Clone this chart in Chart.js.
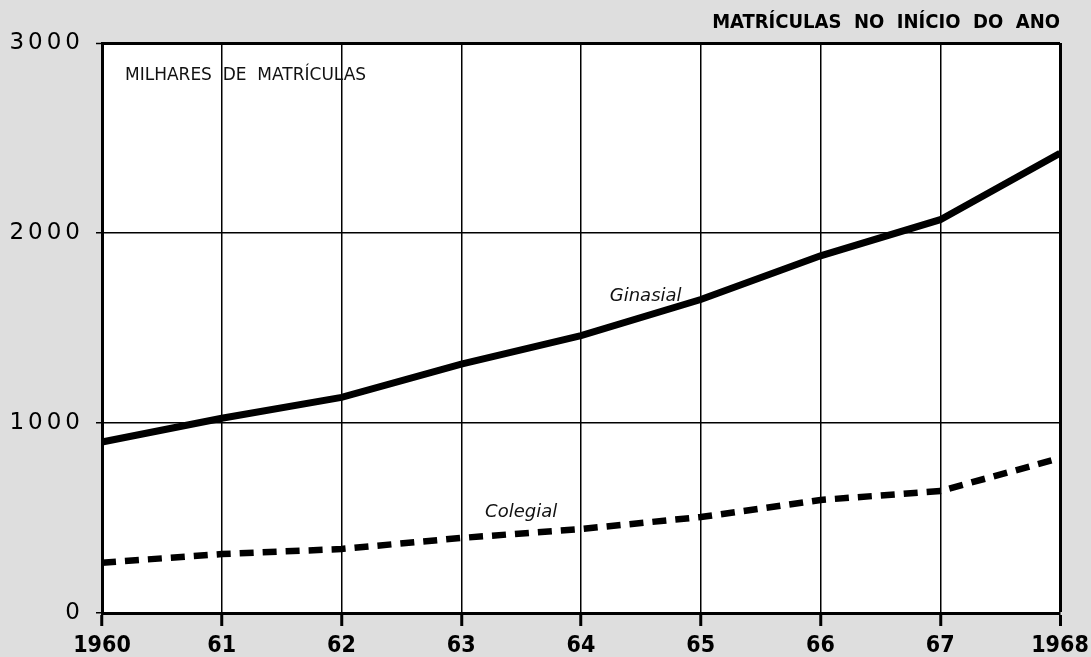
<!DOCTYPE html>
<html>
<head>
<meta charset="utf-8">
<script src="https://cdn.jsdelivr.net/npm/chart.js@4"></script>
<style>
  body { margin: 0; background: #dedede; }
  #wrap { width: 1091px; height: 657px; }
</style>
</head>
<body>
<div id="wrap"><canvas id="matriculasChart" width="1091" height="657"></canvas></div>
<script>
// anos
const anos = ['1960', '61', '62', '63', '64', '65', '66', '67', '1968'];
// milhares de matriculas
const ginasial = [900, 1025, 1135, 1310, 1460, 1650, 1880, 2070, 2420];
const colegial = [265, 310, 337, 395, 442, 505, 595, 642, 815];
const yTicks = [0, 1000, 2000, 3000];

const condensed = "'Liberation Sans Narrow', 'DejaVu Sans Condensed', 'Roboto', sans-serif";

// textos dentro do grafico
const rotulos = {
    id: 'rotulos',
    beforeDraw(chart) {
        const { ctx, chartArea } = chart;
        ctx.save();
        ctx.fillStyle = '#ffffff';
        ctx.fillRect(chartArea.left, chartArea.top, chartArea.right - chartArea.left, chartArea.bottom - chartArea.top);
        ctx.restore();
    },
    afterDatasetsDraw(chart) {
        const { ctx, chartArea, scales } = chart;
        ctx.save();
        ctx.fillStyle = '#111';
        ctx.textBaseline = 'middle';
        ctx.textAlign = 'left';
        ctx.font = "17px 'DejaVu Sans'";
        ctx.fillText('MILHARES  DE  MATRÍCULAS', chartArea.left + 23, chartArea.top + 33);

        ctx.textAlign = 'center';
        ctx.font = "italic 18px 'DejaVu Sans'";
        ctx.fillText('Ginasial', scales.x.getPixelForValue(4.54), scales.y.getPixelForValue(1665));
        ctx.fillText('Colegial', scales.x.getPixelForValue(3.5), scales.y.getPixelForValue(530));
        ctx.restore();
    }
};

// numeros do eixo y espacados
function espacarRotulos(scale) {
    const original = Object.getPrototypeOf(scale).drawLabels;
    scale.drawLabels = function (area) {
        this.ctx.save();
        this.ctx.letterSpacing = '4px';
        original.call(this, area);
        this.ctx.restore();
    };
}

new Chart(document.getElementById('matriculasChart').getContext('2d'), {
    type: 'line',
    data: {
        labels: anos,
        datasets: [{
            label: 'Ginasial',
            data: ginasial,
            borderColor: '#000',
            borderWidth: 7,
            pointRadius: 0,
            tension: 0
        }, {
            label: 'Colegial',
            data: colegial,
            borderColor: '#000',
            borderWidth: 6.5,
            borderDash: [14, 9],
            pointRadius: 0,
            tension: 0
        }]
    },
    options: {
        responsive: false,
        animation: false,
        layout: { padding: { left: 0, right: 31, top: 0, bottom: 0 } },
        plugins: {
            legend: { display: false },
            tooltip: { enabled: false },
            title: {
                display: true,
                text: 'MATRÍCULAS  NO  INÍCIO  DO  ANO',
                align: 'end',
                color: '#000',
                font: { family: condensed, size: 20, weight: 'bold' },
                padding: { top: 11, bottom: 8 }
            }
        },
        scales: {
            x: {
                afterFit(scale) { scale.height = 44; scale.paddingRight = 0; },
                grid: {
                    color: '#000',
                    lineWidth: ctx => ctx.index === anos.length - 1 ? 3 : 1.5,
                    tickLength: 13,
                    tickWidth: 3,
                    tickColor: '#000'
                },
                border: { display: true, color: '#000', width: 3 },
                ticks: {
                    color: '#000',
                    padding: 6,
                    maxRotation: 0,
                    autoSkip: false,
                    font: { family: condensed, size: 23, weight: 'bold' }
                }
            },
            y: {
                min: 0,
                max: 3000,
                afterFit(scale) { scale.width = 102; espacarRotulos(scale); },
                afterBuildTicks(scale) { scale.ticks = yTicks.map(v => ({ value: v })); },
                grid: {
                    color: '#000',
                    lineWidth: ctx => ctx.index === yTicks.length - 1 ? 3 : 1.5,
                    tickLength: 6,
                    tickWidth: 1.5,
                    tickColor: '#000'
                },
                border: { display: true, color: '#000', width: 3 },
                ticks: {
                    color: '#000',
                    padding: 12,
                    callback: v => String(v),
                    font: { family: "'DejaVu Sans'", size: 23 }
                }
            }
        }
    },
    plugins: [rotulos]
});
</script>
</body>
</html>
